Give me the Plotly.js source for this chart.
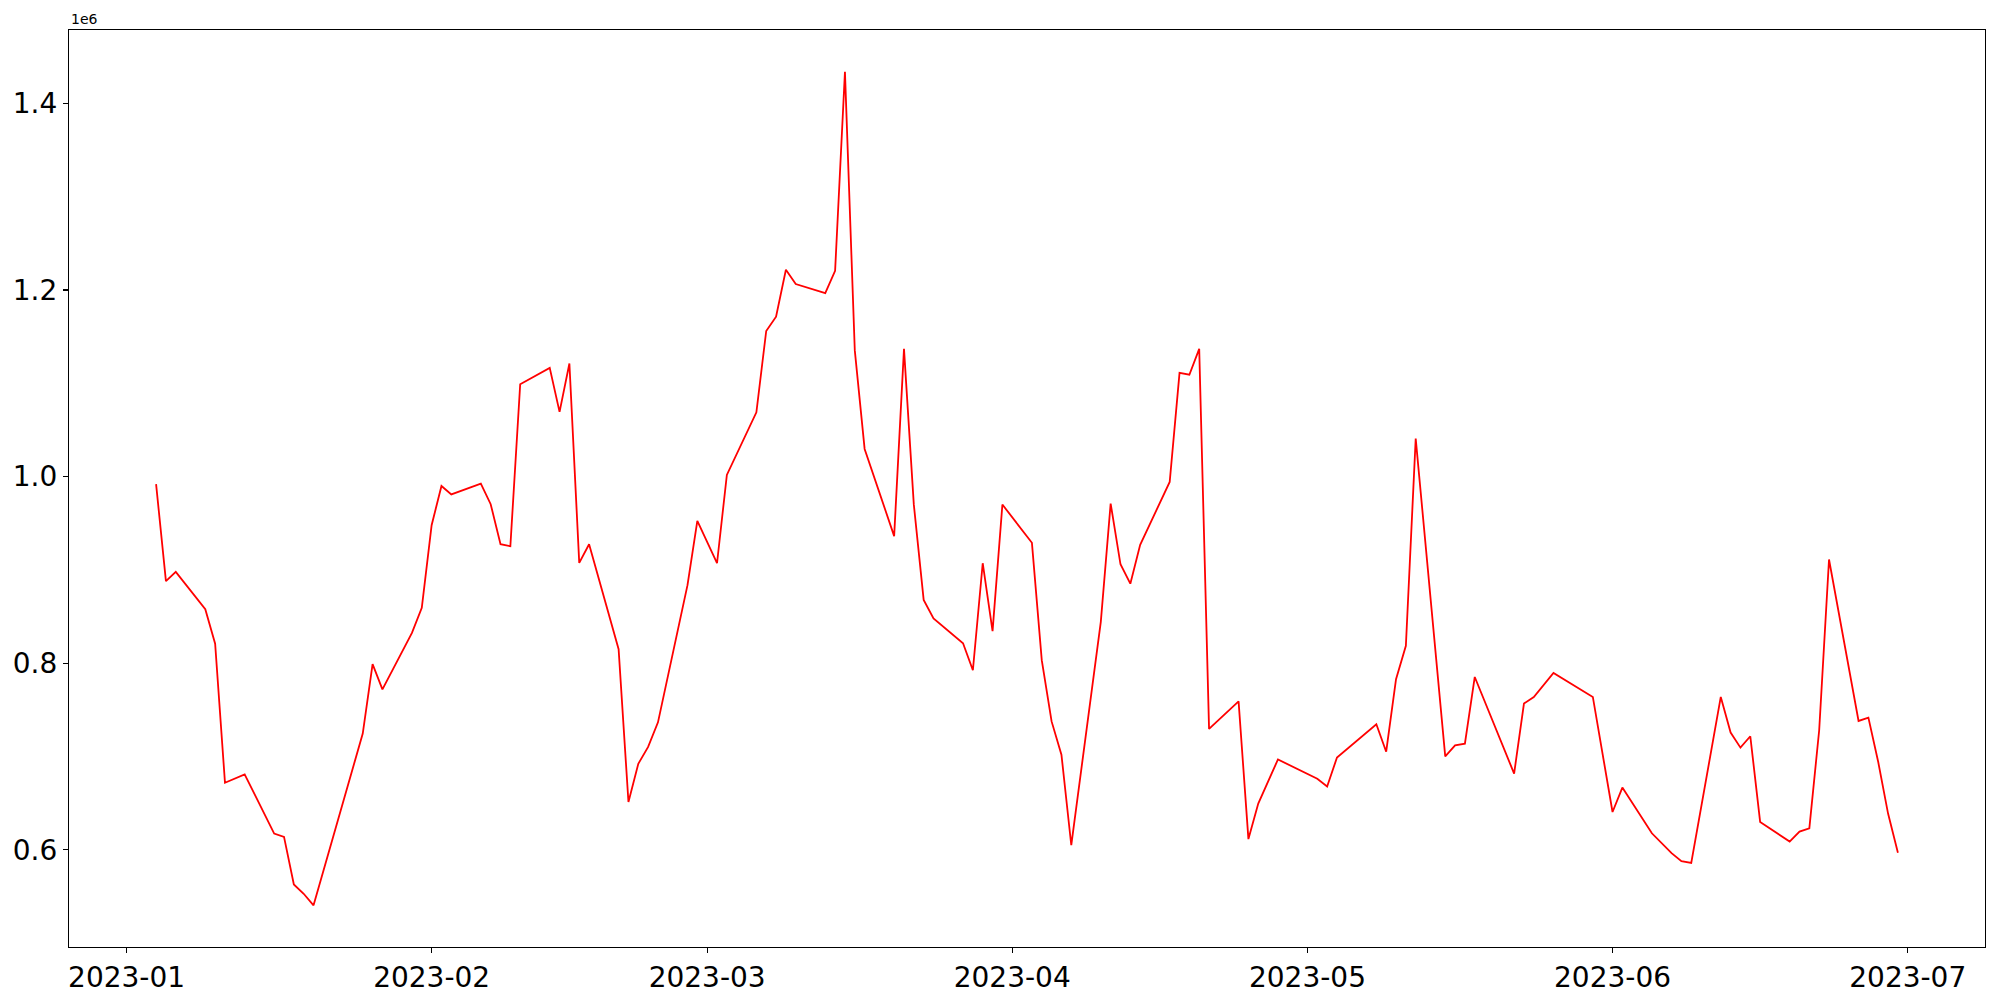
<!DOCTYPE html>
<html>
<head>
<meta charset="utf-8">
<script src="https://cdn.plot.ly/plotly-3.0.1.min.js"></script>
<style>html,body{margin:0;padding:0;background:#fff;}#chart{width:2000px;height:1000px;}</style>
</head>
<body>
<div id="chart"></div>
<script>
const dates = [
 '2023-01-04','2023-01-05','2023-01-06','2023-01-09','2023-01-10','2023-01-11','2023-01-13','2023-01-16','2023-01-17','2023-01-18','2023-01-19','2023-01-20',
 '2023-01-25','2023-01-26','2023-01-27','2023-01-30','2023-01-31',
 '2023-02-01','2023-02-02','2023-02-03','2023-02-06','2023-02-07','2023-02-08','2023-02-09','2023-02-10','2023-02-13','2023-02-14','2023-02-15','2023-02-16','2023-02-17',
 '2023-02-20','2023-02-21','2023-02-22','2023-02-23','2023-02-24','2023-02-27','2023-02-28',
 '2023-03-02','2023-03-03','2023-03-06','2023-03-07','2023-03-08','2023-03-09','2023-03-10','2023-03-13','2023-03-14','2023-03-15','2023-03-16','2023-03-17',
 '2023-03-20','2023-03-21','2023-03-22','2023-03-23','2023-03-24','2023-03-27','2023-03-28','2023-03-29','2023-03-30','2023-03-31',
 '2023-04-03','2023-04-04','2023-04-05','2023-04-06','2023-04-07','2023-04-10','2023-04-11','2023-04-12','2023-04-13','2023-04-14',
 '2023-04-17','2023-04-18','2023-04-19','2023-04-20','2023-04-21','2023-04-24','2023-04-25','2023-04-26','2023-04-28',
 '2023-05-02','2023-05-03','2023-05-04','2023-05-08','2023-05-09','2023-05-10','2023-05-11','2023-05-12','2023-05-15','2023-05-16','2023-05-17','2023-05-18',
 '2023-05-22','2023-05-23','2023-05-24','2023-05-26','2023-05-30',
 '2023-06-01','2023-06-02','2023-06-05','2023-06-07','2023-06-08','2023-06-09','2023-06-12','2023-06-13','2023-06-14','2023-06-15','2023-06-16',
 '2023-06-19','2023-06-20','2023-06-21','2023-06-22','2023-06-23','2023-06-26','2023-06-27','2023-06-28','2023-06-29','2023-06-30'
];
const values = [
 992000,888000,898000,858000,821000,672000,681000,617500,614000,563000,553000,540600,
 724700,799000,772000,832500,859500,
 948000,990000,981000,992600,970500,927600,925400,1099100,1116600,1069400,1121300,907600,927600,
 815000,651300,692300,710400,736700,883700,952700,
 907200,1001900,1069000,1156100,1171400,1221700,1206400,1196600,1220600,1434000,1135300,1029700,
 936300,1136900,970000,867900,848100,821500,792500,907200,834500,970100,
 929100,803300,737700,702100,605000,844400,971200,906100,885300,927000,
 994300,1111200,1109200,1137000,729700,759200,611600,649700,696900,
 676300,668000,699000,734600,705200,783000,818700,1040800,700300,712100,713900,785300,
 681800,756800,763900,789600,763900,
 640600,666800,617800,596500,588000,586000,763900,725700,709600,721800,630000,
 608900,619600,623200,728200,911200,738200,741800,694200,638900,597000
];
const yTickVals = [600000, 800000, 1000000, 1200000, 1400000];
const yTickText = ['0.6', '0.8', '1.0', '1.2', '1.4'];
const xTickVals = ['2023-01-01','2023-02-01','2023-03-01','2023-04-01','2023-05-01','2023-06-01','2023-07-01'];
const xTickText = ['2023-01','2023-02','2023-03','2023-04','2023-05','2023-06','2023-07'];
const offsetText = '1e6';

// 5% padding like matplotlib defaults
const t0 = Date.parse(dates[0] + 'T00:00:00Z');
const t1 = Date.parse(dates[dates.length - 1] + 'T00:00:00Z');
const tp = (t1 - t0) * 0.05;
const fmt = t => new Date(t).toISOString().replace('T', ' ').replace('Z', '');
const vmin = Math.min(...values), vmax = Math.max(...values);
const vp = (vmax - vmin) * 0.05;

const axisCommon = {
  showline: true, linecolor: '#000', linewidth: 1.1, mirror: true,
  ticks: 'outside', ticklen: 5, tickwidth: 1.1, tickcolor: '#000',
  showgrid: false, zeroline: false,
  tickfont: {family: 'DejaVu Sans', size: 28, color: '#000'}
};

Plotly.newPlot('chart', [{
  x: dates, y: values, type: 'scatter', mode: 'lines',
  line: {color: '#ff0000', width: 1.8}, hoverinfo: 'x+y'
}], {
  width: 2000, height: 1000,
  margin: {l: 69, r: 15, t: 30, b: 53},
  paper_bgcolor: '#fff', plot_bgcolor: '#fff',
  showlegend: false,
  xaxis: Object.assign({}, axisCommon, {
    type: 'date', range: [fmt(t0 - tp), fmt(t1 + tp)],
    tickmode: 'array', tickvals: xTickVals, ticktext: xTickText
  }),
  yaxis: Object.assign({}, axisCommon, {
    range: [vmin - vp, vmax + vp],
    tickmode: 'array', tickvals: yTickVals, ticktext: yTickText
  }),
  annotations: [{
    text: offsetText, xref: 'paper', yref: 'paper', x: 0, y: 1,
    xanchor: 'left', yanchor: 'bottom', showarrow: false, yshift: 1,
    font: {family: 'DejaVu Sans', size: 14, color: '#000'}
  }]
}, {staticPlot: true});
</script>
</body>
</html>
